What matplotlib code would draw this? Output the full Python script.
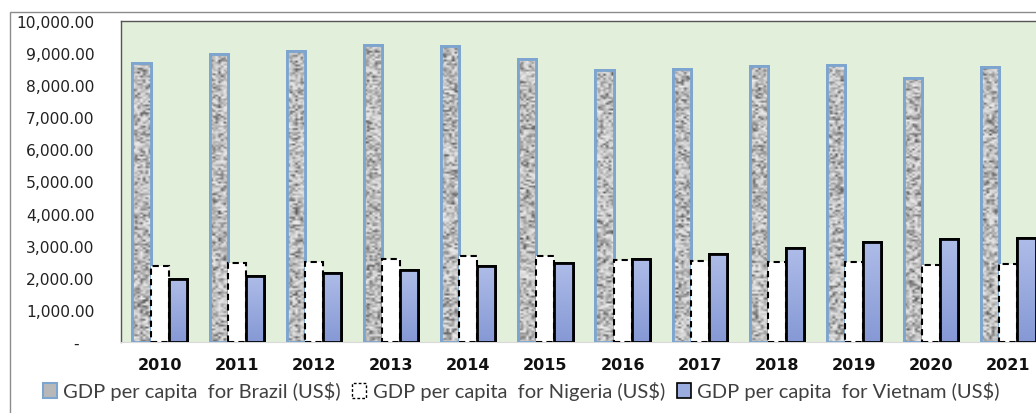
import numpy as np
import matplotlib.pyplot as plt
from matplotlib.patches import Patch, Rectangle
from matplotlib.colors import LinearSegmentedColormap
from matplotlib.ticker import FuncFormatter

# Data
years = ['2010', '2011', '2012', '2013', '2014', '2015',
         '2016', '2017', '2018', '2019', '2020', '2021']
brazil = [8700, 8970, 9060, 9250, 9210, 8830, 8470, 8510, 8590, 8630, 8230, 8580]
nigeria = [2380, 2460, 2500, 2600, 2690, 2690, 2560, 2520, 2500, 2500, 2410, 2430]
vietnam = [1960, 2070, 2160, 2240, 2360, 2470, 2600, 2730, 2930, 3120, 3210, 3240]
labels = ['GDP per capita  for Brazil (US$)',
          'GDP per capita  for Nigeria (US$)',
          'GDP per capita  for Vietnam (US$)']

fig = plt.figure(figsize=(10.36, 4.14), dpi=100)
# outer chart border (runs off the right and bottom edges like the source)
fig.patches.append(Rectangle((10 / 1036, -0.1), 1.2, 1 - 13 / 414 + 0.1,
                             transform=fig.transFigure, fill=False,
                             edgecolor='#8c8c8c', linewidth=1))

ax = fig.add_axes([121 / 1036, 71 / 414, 926 / 1036, 321 / 414])
ax.set_facecolor('#e2efda')

x = np.arange(len(years))
w = 0.235

b1 = ax.bar(x - w, brazil, w, facecolor='#b8b8b8', edgecolor='#7ca5cf',
            linewidth=2, zorder=3)
b2 = ax.bar(x, nigeria, w, facecolor='white', edgecolor='black',
            linewidth=1.5, linestyle=(0, (3, 2)), zorder=3.3)
b3 = ax.bar(x + w, vietnam, w, facecolor='#9aace0', edgecolor='black',
            linewidth=2, zorder=3)

# granite texture for Brazil bars (styling only)
granite = LinearSegmentedColormap.from_list('granite', ['#555555', '#9a9a9a', '#c8c8c8', '#eeeeee'])
rng = np.random.default_rng(7)
for r in b1:
    tex = rng.random((int(r.get_height() / 60), 7)) ** 0.7
    im = ax.imshow(tex, extent=[r.get_x(), r.get_x() + r.get_width(), 0, r.get_height()],
                   cmap=granite, vmin=0, vmax=1, aspect='auto',
                   interpolation='bilinear', zorder=3.1)
    im.set_clip_path(r)
    ax.add_patch(Rectangle((r.get_x(), 0), r.get_width(), r.get_height(),
                           fill=False, edgecolor='#7ca5cf', linewidth=2, zorder=3.2))

# light gradient for Vietnam bars
grad_cmap = LinearSegmentedColormap.from_list('vn', ['#8699d5', '#aebce8'])
grad = np.linspace(1, 0, 64)[:, None]
for r in b3:
    im = ax.imshow(grad, extent=[r.get_x(), r.get_x() + r.get_width(), 0, r.get_height()],
                   cmap=grad_cmap, aspect='auto', zorder=3.1)
    im.set_clip_path(r)
    ax.add_patch(Rectangle((r.get_x(), 0), r.get_width(), r.get_height(),
                           fill=False, edgecolor='black', linewidth=2, zorder=3.4))

ax.set_xlim(-0.5, len(years) - 0.5)
ax.set_ylim(0, 10000)
ax.set_yticks(np.arange(0, 10001, 1000))
ax.yaxis.set_major_formatter(FuncFormatter(lambda v, p: '-   ' if v == 0 else f'{v:,.2f}'))
ax.set_xticks(x)
ax.set_xticklabels(years, fontweight='bold', fontsize=11.5)
ax.tick_params(axis='y', length=0, pad=19, labelsize=11.2, labelcolor='#222222')
ax.tick_params(axis='x', length=0, pad=11, labelcolor='#111111')

for s in ['left', 'top', 'right']:
    ax.spines[s].set_color('#555555')
    ax.spines[s].set_linewidth(1)
ax.spines['bottom'].set_color('#d9d9d9')

handles = [
    Patch(facecolor='#b8b8b8', edgecolor='#7ca5cf', linewidth=1.5),
    Patch(facecolor='white', edgecolor='black', linewidth=1, linestyle=(0, (2, 1.5))),
    Patch(facecolor='#9aace0', edgecolor='black', linewidth=1.2),
]
fig.legend(handles, labels, loc='center', bbox_to_anchor=(521 / 1036, 1 - 392 / 414),
           ncol=3, frameon=False, handlelength=0.7, handleheight=0.7,
           handletextpad=0.3, columnspacing=0.6,
           prop={'family': 'Lato', 'size': 14.5}, labelcolor='#404040')

plt.savefig('out.png', dpi=100)
